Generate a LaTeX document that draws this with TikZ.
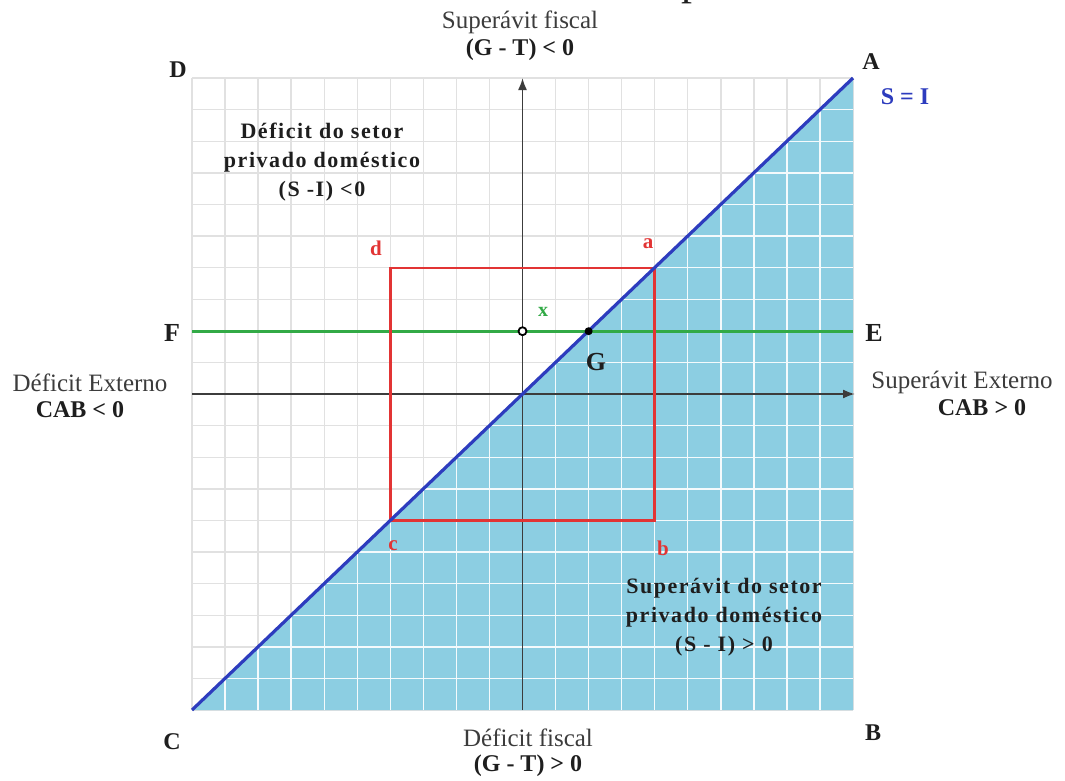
\documentclass[tikz,border=0pt]{standalone}
\usepackage{fontspec}
\setmainfont{Liberation Serif}
\usetikzlibrary{arrows.meta}
\definecolor{fillblue}{RGB}{140,206,226}
\definecolor{diagblue}{RGB}{45,60,190}
\definecolor{boxred}{RGB}{226,52,52}
\definecolor{lgreen}{RGB}{50,170,70}
\definecolor{txt}{RGB}{30,30,30}
\definecolor{txtgrey}{RGB}{60,60,60}
\definecolor{gridgrey}{RGB}{225,225,225}
\definecolor{axisgrey}{RGB}{60,60,60}
\tikzset{
  axislbl/.style={font=\fontsize{25}{29}\selectfont, text=txtgrey, align=center, inner sep=0pt},
  axisbold/.style={font=\fontsize{24}{28}\selectfont\bfseries, text=txt, inner sep=0pt},
  corner/.style={font=\fontsize{24}{28}\selectfont\bfseries, text=txt, inner sep=0pt},
  regionlbl/.style={font=\fontsize{22}{29}\addfontfeatures{LetterSpace=7}\bfseries, text=txt, align=center, inner sep=0pt},
  redlbl/.style={font=\fontsize{21}{24}\selectfont\bfseries, text=boxred, inner sep=0pt},
  gridline/.style={gridgrey, line width=1.4pt},
  gridwhite/.style={white!90!fillblue, line width=1.4pt},
  axisline/.style={axisgrey, line width=1.8pt, -{Latex[length=12pt,width=9pt]}},
  diagline/.style={diagblue, line width=3.2pt},
  redbox/.style={boxred, line width=2.8pt},
  greenline/.style={lgreen, line width=2.6pt},
}
\begin{document}
\begin{tikzpicture}[x=1pt,y=-1pt]
\useasboundingbox (0,0) rectangle (1065,780);
\clip (0,0) rectangle (1065,780);
\fill[white] (0,0) rectangle (1065,780);
% corner coordinates of the plot
\coordinate (pC) at (192,710);
\coordinate (pA) at (853,78);
\coordinate (pB) at (853,710);
\coordinate (pD) at (192,78);
% grid on white
\foreach \i in {0,...,20} {
  \draw[gridline] ({192+\i*33.05},78) -- ({192+\i*33.05},710);
  \draw[gridline] (192,{78+\i*31.6}) -- (853,{78+\i*31.6});
}
% blue region
\fill[fillblue] (pC) -- (pA) -- (pB) -- cycle;
\begin{scope}
  \clip (pC) -- (pA) -- (pB) -- cycle;
  \foreach \i in {1,...,19} {
    \draw[gridwhite] ({192+\i*33.05},78) -- ({192+\i*33.05},710);
    \draw[gridwhite] (192,{78+\i*31.6}) -- (853,{78+\i*31.6});
  }
\end{scope}
% axes
\coordinate (vb) at (522.5,710);
\coordinate (vt) at (522.5,78);
\coordinate (hl) at (192,394);
\coordinate (hr) at (855,394);
\draw[axisline] (vb) -- (vt);
\draw[axisline] (hl) -- (hr);
% green line
\coordinate (gF) at (192,331.2);
\coordinate (gE) at (853,331.2);
\draw[greenline] (gF) -- (gE);
% red box
\coordinate (ra) at (654.7,268.0);
\coordinate (rb) at (654.7,520.6);
\coordinate (rc) at (390.3,520.6);
\coordinate (rd) at (390.3,268.0);
\draw[redbox] (ra) -- (rb) -- (rc) -- (rd) -- cycle;
% diagonal
\draw[diagline] (pC) -- (pA);
% points
\node[circle, draw=black, fill=white, line width=1.8pt, minimum size=8pt, inner sep=0pt] (px) at (522.5,331.2) {};
\node[circle, fill=black, minimum size=8pt, inner sep=0pt] (pG) at (588.6,331.2) {};
% labels
\node[font=\fontsize{44}{44}\selectfont, text=txt, anchor=base, inner sep=0pt] (cut) at (692,-6) {p};
\node[axislbl] (supfis) at (520,22) {Superávit fiscal};
\node[axisbold] (gtl) at (520,50) {(G - T) < 0};
\node[axislbl] (deffis) at (528,738) {Déficit fiscal};
\node[axisbold] (gtg) at (528,766) {(G - T) > 0};
\node[axislbl] (defext) at (90,383) {Déficit Externo};
\node[axisbold] (cabl) at (80,410) {CAB < 0};
\node[axislbl] (supext) at (962,382) {Superávit Externo};
\node[axisbold] (cabg) at (982,408) {CAB > 0};
\node[corner] (lD) at (178,70) {D};
\node[corner] (lA) at (871,62) {A};
\node[corner, font=\fontsize{26}{28}\selectfont\bfseries] (lF) at (172,333) {F};
\node[corner, font=\fontsize{26}{28}\selectfont\bfseries] (lE) at (874,333) {E};
\node[corner] (lC) at (172,742) {C};
\node[corner] (lB) at (873,733) {B};
\node[corner, text=diagblue] (lSI) at (905,97) {S = I};
\node[regionlbl] (deficit) at (322,162) {Déficit do setor\\privado doméstico\\(S -I) <0};
\node[regionlbl] (superavit) at (724,617) {Superávit do setor\\privado doméstico\\(S - I) > 0};
\node[redlbl] (la) at (648,244) {a};
\node[redlbl] (lb) at (663,548) {b};
\node[redlbl] (lc) at (393,546) {c};
\node[redlbl] (ld) at (376,248) {d};
\node[font=\fontsize{20}{24}\selectfont\bfseries, text=lgreen, inner sep=0pt] (lx) at (543,312) {x};
\node[font=\fontsize{26}{28}\selectfont\bfseries, text=txt, inner sep=0pt] (lG) at (596,362) {G};
\end{tikzpicture}
\end{document}
